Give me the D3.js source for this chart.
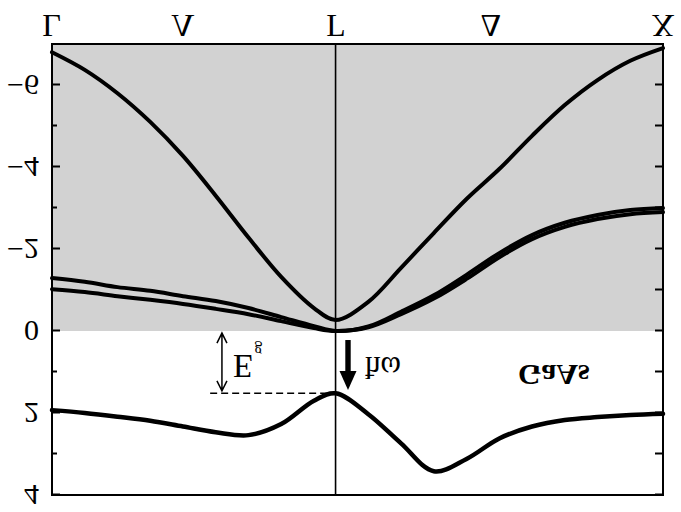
<!DOCTYPE html>
<html><head><meta charset="utf-8">
<script src="https://cdn.jsdelivr.net/npm/d3@7"></script>
<style>body{margin:0;background:#fff} svg{display:block}</style>
</head><body>
<script>
// ---- data (GaAs band structure along L–Γ–X; k in units of 2π/a) ----
const kPointLabels = ["L", "Λ", "Γ", "Δ", "X"];
const kPointPos    = [0, 0.40, 0.866, 1.34, 1.866];
const kGrid = [0, 0.1, 0.2, 0.3, 0.4, 0.5, 0.6, 0.7, 0.8, 0.866,
               0.966, 1.066, 1.166, 1.266, 1.366, 1.466, 1.566, 1.666, 1.766, 1.866];
const conductionBand = [1.93, 2.00, 2.09, 2.19, 2.33, 2.47, 2.54, 2.27, 1.70, 1.52,
                        2.03, 2.74, 3.42, 3.12, 2.62, 2.33, 2.17, 2.10, 2.05, 2.02];
const valenceBandA = [-6.80, -6.37, -5.80, -5.10, -4.27, -3.30, -2.28, -1.32, -0.56, -0.27,
                      -0.71, -1.54, -2.39, -3.22, -3.95, -4.76, -5.51, -6.12, -6.59, -6.90];
const valenceBandB = [-1.29, -1.20, -1.07, -0.98, -0.85, -0.73, -0.56, -0.34, -0.12, 0,
                      -0.11, -0.47, -0.87, -1.37, -1.90, -2.34, -2.64, -2.83, -2.95, -3.00];
const valenceBandC = [-1.02, -0.95, -0.85, -0.76, -0.66, -0.54, -0.41, -0.24, -0.07, 0,
                      -0.09, -0.41, -0.79, -1.27, -1.80, -2.24, -2.54, -2.73, -2.85, -2.90];
const majorTicks = [-6, -4, -2, 0, 2, 4];
const minorTicks = [-5, -3, -1, 1, 3];
const gapEnergy = 1.52;
const materialName = "GaAs";

// ---- layout ----
const W = 681, H = 512;
const x = d3.scaleLinear().domain([0, 1.866]).range([52, 663]);
const y = d3.scaleLinear().domain([-7, 4]).range([468, 17]);
const serif = "'Liberation Serif', 'DejaVu Serif', serif";

const svg = d3.select("body").append("svg").attr("width", W).attr("height", H);
// whole figure is shown mirrored top-to-bottom, as in the reference
const g = svg.append("g").attr("transform", `translate(0,${H}) scale(1,-1)`);

// shaded valence region
g.append("rect")
  .attr("x", x(0)).attr("y", y(0))
  .attr("width", x(1.866) - x(0)).attr("height", y(-7) - y(0))
  .attr("fill", "#d2d2d2");

// axes
const left = g.append("g").attr("transform", `translate(${x(0)},0)`)
  .call(d3.axisLeft(y).tickValues(majorTicks).tickSizeInner(-8).tickSizeOuter(0).tickPadding(13));
left.select(".domain").remove();
left.selectAll("text").attr("font-family", serif).attr("font-size", 30).attr("fill", "#000");
left.selectAll("line").attr("stroke-width", 2);
const leftMinor = g.append("g").attr("transform", `translate(${x(0)},0)`)
  .call(d3.axisLeft(y).tickValues(minorTicks).tickSizeInner(-5).tickSizeOuter(0).tickFormat(""));
leftMinor.select(".domain").remove();
leftMinor.selectAll("line").attr("stroke-width", 2);
const right = g.append("g").attr("transform", `translate(${x(1.866)},0)`)
  .call(d3.axisRight(y).tickValues(majorTicks.concat(minorTicks)).tickSizeInner(-8).tickSizeOuter(0).tickFormat(""));
right.select(".domain").remove();
right.selectAll("line").attr("stroke-width", 2);

// Γ vertical line
g.append("line")
  .attr("x1", x(0.866)).attr("x2", x(0.866)).attr("y1", y(4)).attr("y2", y(-7))
  .attr("stroke", "#000").attr("stroke-width", 1.6);

// frame
g.append("rect")
  .attr("x", x(0)).attr("y", y(4))
  .attr("width", x(1.866) - x(0)).attr("height", y(-7) - y(4))
  .attr("fill", "none").attr("stroke", "#000").attr("stroke-width", 2);

// k-point labels
g.selectAll("text.kp").data(kPointLabels).join("text")
  .attr("class", "kp")
  .attr("x", (d, i) => x(kPointPos[i])).attr("y", 497)
  .attr("text-anchor", "middle")
  .attr("font-family", serif).attr("font-size", 32)
  .text(d => d);

// bands
const line = d3.line().x((d, i) => x(kGrid[i])).y(d => y(d)).curve(d3.curveCatmullRom.alpha(0.5));
const bands = [valenceBandA, valenceBandB, valenceBandC, conductionBand];
g.selectAll("path.band").data(bands).join("path")
  .attr("class", "band")
  .attr("d", d => line(d))
  .attr("fill", "none").attr("stroke", "#000")
  .attr("stroke-width", (d, i) => i === 3 ? 4.5 : 4)
  .attr("stroke-linejoin", "round").attr("stroke-linecap", "round");

// Eg annotation
g.append("line")
  .attr("x1", x(0.483)).attr("x2", x(0.866)).attr("y1", y(gapEnergy)).attr("y2", y(gapEnergy))
  .attr("stroke", "#000").attr("stroke-width", 1.6).attr("stroke-dasharray", "7,4");
const ax = x(0.519), yTop = y(1.46), yBot = y(0.05);
g.append("path")
  .attr("d", `M${ax},${yBot}L${ax},${yTop}M${ax - 5},${yTop + 10}L${ax},${yTop}L${ax + 5},${yTop + 10}` +
             `M${ax - 5},${yBot - 10}L${ax},${yBot}L${ax + 5},${yBot - 10}`)
  .attr("fill", "none").attr("stroke", "#000").attr("stroke-width", 1.5);
const eg = g.append("text")
  .attr("x", x(0.553)).attr("y", y(0.58))
  .attr("font-family", serif).attr("font-size", 33);
eg.append("tspan").text("E");
eg.append("tspan").attr("font-size", 16).attr("dy", 10).attr("dx", 1).text("g");

// ħω arrow
const hx = x(0.904), tipY = y(1.44), tailY = y(0.22), headLen = 19, headHalf = 8.5;
g.append("rect")
  .attr("x", hx - 2.7).attr("y", tipY + headLen - 1).attr("width", 5.4).attr("height", tailY - tipY - headLen + 1)
  .attr("fill", "#000");
g.append("path")
  .attr("d", `M${hx},${tipY}L${hx - headHalf},${tipY + headLen}L${hx + headHalf},${tipY + headLen}Z`)
  .attr("fill", "#000");
g.append("text")
  .attr("x", x(0.956)).attr("y", y(0.63))
  .attr("font-family", serif).attr("font-size", 31)
  .text("ħω");

// material label
g.append("text")
  .attr("x", x(1.423)).attr("y", y(0.83))
  .attr("font-family", serif).attr("font-size", 30).attr("font-weight", "bold")
  .text(materialName);
</script>
</body></html>
